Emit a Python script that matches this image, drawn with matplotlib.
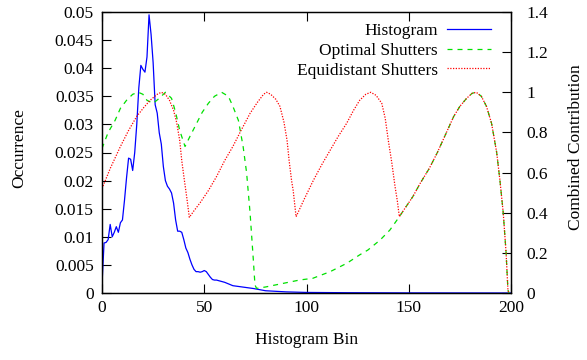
import matplotlib
matplotlib.use('Agg')
import matplotlib.pyplot as plt
from matplotlib.ticker import FuncFormatter

plt.rcParams['font.family'] = ['Liberation Serif', 'DejaVu Serif']
plt.rcParams['font.size'] = 12.5

# histogram (left axis)
hist_bin = [0, 1, 2, 3, 4, 5, 6, 7, 8, 9, 10, 11, 12, 13, 14, 15, 16, 17, 18, 19,
            20, 21, 22, 23, 24, 25, 26, 27, 28, 29, 30, 31, 32, 33, 34, 35, 36, 37, 38, 39,
            40, 41, 42, 43, 44, 45, 46, 47, 48, 49, 50, 51, 52, 53, 54, 55, 56, 57, 58,
            60, 62, 64, 66, 68, 70, 72, 74, 77, 80, 85, 90, 100, 120, 150, 200]
hist_val = [0.0015, 0.0089, 0.0090, 0.0095, 0.0122, 0.0100, 0.0108, 0.0118, 0.0108, 0.0125,
            0.0130, 0.0165, 0.0205, 0.0240, 0.0238, 0.0218, 0.0250, 0.0300, 0.0365, 0.0405,
            0.0398, 0.0393, 0.0420, 0.0495, 0.0460, 0.0410, 0.0335, 0.0320, 0.0285, 0.0265,
            0.0225, 0.0200, 0.0190, 0.0185, 0.0178, 0.0160, 0.0130, 0.0110, 0.0110, 0.0108,
            0.0095, 0.0080, 0.0072, 0.0060, 0.0050, 0.0042, 0.0038, 0.0038, 0.0037, 0.0038,
            0.0040, 0.0038, 0.0033, 0.0028, 0.0024, 0.0023, 0.0023, 0.0022, 0.0021,
            0.0019, 0.0016, 0.0013, 0.0012, 0.0011, 0.0010, 0.0009, 0.0008, 0.0006,
            0.0004, 0.0003, 0.0002, 0.0001, 0.00005, 0.00002, 0.0]

# last hump, shared by both shutter curves
tail_bin = [148, 152, 155.5, 160, 164, 168, 172, 175, 178.3, 181, 183, 185.5, 188,
            190.5, 193, 194.6, 196.2, 197.6, 198.5, 199]
tail_val = [0.42, 0.48, 0.545, 0.62, 0.70, 0.79, 0.88, 0.93, 0.97, 0.995, 1.0, 0.98, 0.93,
            0.845, 0.70, 0.56, 0.40, 0.20, 0.015, 0.0]

opt_bin = [0, 3, 6.4, 9, 12, 15, 17.8, 20, 22, 25, 28, 31, 34, 36, 38, 40.6,
           43, 45.5, 49, 52, 55, 58.5, 61.8, 64, 66.7, 69, 70.7, 72.4, 74, 74.8,
           75.6, 80, 88.6, 96.8, 103, 111.5, 119.7, 126, 130, 136, 140.8, 145.4]
opt_val = [0.72, 0.80, 0.86, 0.92, 0.96, 0.99, 1.0, 0.99, 0.96, 0.945, 0.97, 1.0, 0.97,
           0.90, 0.81, 0.73, 0.78, 0.83, 0.90, 0.945, 0.98, 1.0, 0.98, 0.93, 0.86, 0.73,
           0.60, 0.40, 0.165, 0.04, 0.023, 0.03, 0.048, 0.065, 0.073, 0.106, 0.148, 0.19,
           0.214, 0.264, 0.314, 0.38]

equi_bin = [0, 4, 9, 13, 17, 20.5, 23.5, 27, 29, 31, 33, 35, 36.5, 38, 39, 40.3, 41.4, 42.7,
            45, 48, 52, 56, 60, 64, 68, 72.4, 76, 79, 80.5, 82.5, 85, 87, 89, 90.5, 91.5,
            92.7, 93.5, 94.9, 99, 103.3, 107.5, 111.5, 115.5, 119.6, 123, 126, 129, 131.4,
            134, 136.8, 138.5, 140, 141.7, 143.3, 144.4, 145.4]
equi_val = [0.52, 0.62, 0.73, 0.81, 0.88, 0.925, 0.96, 0.99, 1.0, 0.99, 0.96, 0.91, 0.85,
            0.76, 0.66, 0.56, 0.48, 0.377, 0.41, 0.45, 0.51, 0.58, 0.66, 0.73, 0.81, 0.895,
            0.95, 0.99, 1.0, 0.99, 0.965, 0.93, 0.85, 0.76, 0.66, 0.56, 0.51, 0.38, 0.47,
            0.56, 0.64, 0.71, 0.78, 0.845, 0.91, 0.96, 0.99, 1.0, 0.985, 0.945, 0.87, 0.76,
            0.65, 0.53, 0.46, 0.38]

fig = plt.figure(figsize=(5.87, 3.6), dpi=100)
ax = fig.add_axes([102 / 587, 1 - 293 / 360, 409 / 587, 281 / 360])
ax2 = ax.twinx()

l1, = ax.plot(hist_bin, hist_val, color='#0000ff', lw=0.9, label='Histogram')
l2, = ax2.plot(opt_bin + tail_bin, opt_val + tail_val, color='#00e000', lw=0.9,
               ls=(0, (4, 4)), label='Optimal Shutters')
l3, = ax2.plot(equi_bin + tail_bin, equi_val + tail_val, color='#ff0000', lw=0.9,
               ls=(0, (1, 1.2)), label='Equidistant Shutters')

ax.set_xlim(0, 200)
ax.set_ylim(0, 0.05)
ax2.set_ylim(0, 1.4)
ax.set_xticks([0, 50, 100, 150, 200])
ax.set_yticks([i * 0.005 for i in range(11)])
ax2.set_yticks([i * 0.2 for i in range(8)])
fmt = FuncFormatter(lambda v, p: '%g' % round(v, 4))
ax.yaxis.set_major_formatter(fmt)
ax2.yaxis.set_major_formatter(fmt)

ax.tick_params(axis='x', direction='in', length=6.5, width=0.8, top=True, pad=5)
ax.tick_params(axis='y', direction='in', length=6.5, width=0.8, pad=6)
ax2.tick_params(axis='y', direction='in', length=6.5, width=0.8, pad=11)
for a in (ax, ax2):
    for s in a.spines.values():
        s.set_linewidth(0.9)

ax.set_xlabel('Histogram Bin')
ax.set_ylabel('Occurrence')
ax2.set_ylabel('Combined Contribution')
ax.xaxis.set_label_coords(0.5, -0.14)
ax.yaxis.set_label_coords(-0.183, 0.516)
ax2.yaxis.set_label_coords(1.139, 0.518)

ax2.legend(handles=[l1, l2, l3], loc='upper right', bbox_to_anchor=(0.967, 0.985),
           frameon=False, markerfirst=False, handlelength=2.5, handletextpad=0.55,
           labelspacing=0.2, borderaxespad=0)

fig.savefig('out.png', dpi=100)
